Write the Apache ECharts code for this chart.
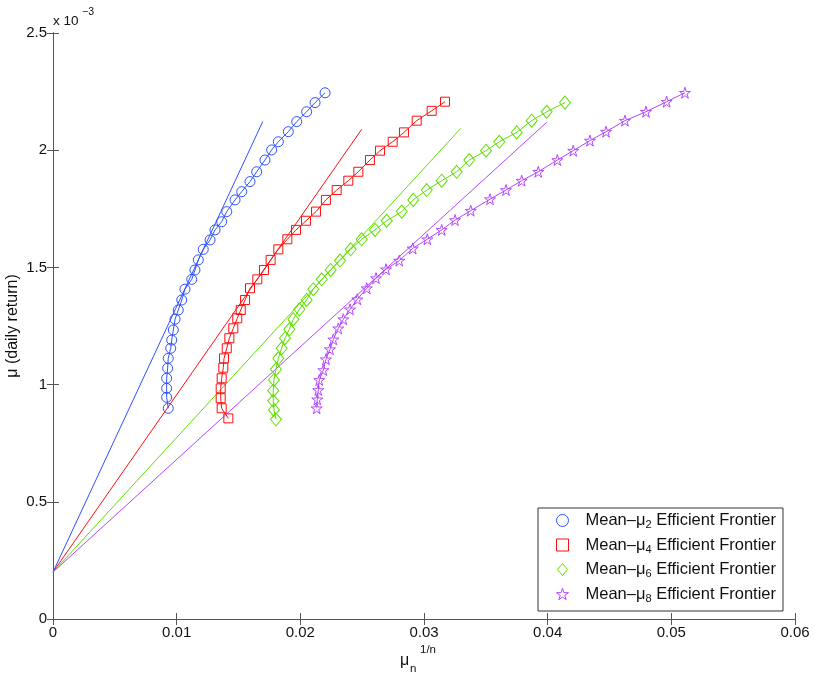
<!DOCTYPE html>
<html><head><meta charset="utf-8">
<script src="https://cdn.jsdelivr.net/npm/echarts@6/dist/echarts.min.js"></script>
<style>html,body{margin:0;padding:0;background:#fff}#c{width:817px;height:676px}</style>
</head><body><div id="c"></div>
<script>
// y values are in units of 1e-3 (axis shows "x 10^-3")
const xTicks = ['0','0.01','0.02','0.03','0.04','0.05','0.06'];
const yTicks = ['0','0.5','1','1.5','2','2.5'];
const seriesNames = ['Mean\u2013\u03bc2 Efficient Frontier','Mean\u2013\u03bc4 Efficient Frontier','Mean\u2013\u03bc6 Efficient Frontier','Mean\u2013\u03bc8 Efficient Frontier'];
const seriesSubs = ['2','4','6','8'];

const mu2X = [0.00932,0.00919,0.00919,0.00919,0.00927,0.00932,0.00952,0.00960,0.00973,0.00987,0.01013,0.01041,0.01067,0.01122,0.01148,0.01175,0.01215,0.01270,0.01310,0.01364,0.01405,0.01472,0.01526,0.01593,0.01647,0.01714,0.01768,0.01822,0.01903,0.01971,0.02051,0.02119,0.02200];
const mu2Y = [0.899,0.946,0.984,1.027,1.070,1.112,1.155,1.190,1.233,1.279,1.318,1.361,1.407,1.449,1.489,1.532,1.577,1.617,1.660,1.695,1.738,1.788,1.823,1.866,1.908,1.958,2.001,2.036,2.079,2.122,2.164,2.203,2.245];

const mu4X = [0.01418,0.01364,0.01356,0.01356,0.01364,0.01377,0.01383,0.01405,0.01426,0.01458,0.01490,0.01518,0.01553,0.01593,0.01652,0.01706,0.01760,0.01822,0.01895,0.01965,0.02046,0.02127,0.02207,0.02294,0.02388,0.02469,0.02563,0.02644,0.02747,0.02838,0.02941,0.03062,0.03170];
const mu4Y = [0.856,0.899,0.942,0.984,1.027,1.072,1.112,1.155,1.198,1.240,1.283,1.318,1.361,1.411,1.449,1.489,1.532,1.577,1.620,1.660,1.699,1.738,1.788,1.830,1.870,1.908,1.958,1.998,2.036,2.076,2.126,2.168,2.207];

const mu6X = [0.01803,0.01787,0.01781,0.01781,0.01787,0.01803,0.01822,0.01849,0.01876,0.01911,0.01943,0.01992,0.02051,0.02105,0.02173,0.02245,0.02321,0.02407,0.02496,0.02604,0.02698,0.02820,0.02913,0.03022,0.03143,0.03264,0.03366,0.03501,0.03609,0.03750,0.03871,0.03992,0.04140];
const mu6Y = [0.852,0.892,0.931,0.974,1.020,1.065,1.112,1.155,1.198,1.236,1.279,1.321,1.361,1.407,1.449,1.489,1.529,1.577,1.620,1.660,1.699,1.738,1.788,1.830,1.870,1.908,1.958,1.998,2.036,2.076,2.126,2.164,2.203];

const mu8X = [0.02132,0.02137,0.02145,0.02153,0.02186,0.02207,0.02240,0.02267,0.02307,0.02348,0.02402,0.02461,0.02537,0.02612,0.02693,0.02800,0.02909,0.03027,0.03143,0.03251,0.03378,0.03534,0.03663,0.03790,0.03924,0.04078,0.04207,0.04342,0.04472,0.04625,0.04795,0.04962,0.05110];
const mu8Y = [0.899,0.937,0.977,1.020,1.062,1.108,1.151,1.193,1.240,1.279,1.321,1.364,1.411,1.454,1.492,1.529,1.581,1.620,1.660,1.702,1.742,1.791,1.830,1.870,1.908,1.958,1.998,2.041,2.079,2.126,2.164,2.207,2.245];

// tangent lines from the risk-free point
const tangentStart = [0, 0.2];
const tangentEnd2 = [0.01696, 2.122];
const tangentEnd4 = [0.02496, 2.089];
const tangentEnd6 = [0.03297, 2.093];
const tangentEnd8 = [0.03992, 2.119];

const colors = ['#2e50ff', '#ff0d0d', '#5ee000', '#b347ff'];
const starPath = 'path://M50 0 L61.17 34.63 L97.55 34.55 L68.07 55.87 L79.39 90.45 L50 69 L20.61 90.45 L31.93 55.87 L2.45 34.55 L38.83 34.63 Z';
const diamondPath = 'path://M50 0 L92 50 L50 100 L8 50 Z';
const symbols = ['circle', 'rect', diamondPath, starPath];
const symbolSizes = [10, 9, [11, 13], 11];
const xs = [mu2X, mu4X, mu6X, mu8X];
const ys = [mu2Y, mu4Y, mu6Y, mu8Y];
const ends = [tangentEnd2, tangentEnd4, tangentEnd6, tangentEnd8];

const FONT = 'Liberation Sans, Arial, Helvetica, sans-serif';
const series = [];
for (let i = 0; i < 4; i++) {
  series.push({
    name: 'tan' + i, type: 'line', data: [tangentStart, ends[i]], symbol: 'none',
    lineStyle: { color: colors[i], width: 1 }, itemStyle: { color: colors[i] },
    silent: true, animation: false, z: 2
  });
}
for (let i = 0; i < 4; i++) {
  series.push({
    name: seriesNames[i], type: 'line',
    data: xs[i].map((x, k) => [x, ys[i][k]]),
    symbol: symbols[i], symbolSize: symbolSizes[i], showAllSymbol: true, symbolKeepAspect: false,
    lineStyle: { color: colors[i], width: 1 },
    itemStyle: { color: 'rgba(0,0,0,0)', borderColor: colors[i], borderWidth: 1 },
    animation: false, z: 3
  });
}

const axisLine = { show: true, lineStyle: { color: '#555', width: 1 } };
const chart = echarts.init(document.getElementById('c'), null, { renderer: 'canvas' });
chart.setOption({
  backgroundColor: '#fff',
  animation: false,
  grid: { left: 53, right: 22, top: 33, bottom: 57, containLabel: false, outerBoundsMode: 'none' },
  xAxis: [
    { type: 'value', min: 0, max: 0.06, interval: 0.01, position: 'bottom',
      axisLine, splitLine: { show: false },
      axisTick: { inside: true, length: 6, lineStyle: { color: '#555' } },
      axisLabel: { margin: 6, color: '#111', fontFamily: FONT, fontSize: 15,
        formatter: (v) => xTicks[Math.round(v / 0.01)] } },
    { type: 'value', min: 0, max: 0.06, interval: 0.01, position: 'top',
      axisLine, splitLine: { show: false },
      axisTick: { inside: true, length: 6, lineStyle: { color: '#555' } },
      axisLabel: { show: false } }
  ],
  yAxis: [
    { type: 'value', min: 0, max: 2.5, interval: 0.5, position: 'left',
      axisLine, splitLine: { show: false },
      axisTick: { inside: true, length: 6, lineStyle: { color: '#555' } },
      axisLabel: { margin: 6, color: '#111', fontFamily: FONT, fontSize: 15,
        formatter: (v) => yTicks[Math.round(v / 0.5)] },
      name: '\u03bc (daily return)', nameLocation: 'middle', nameGap: 32, nameMoveOverlap: false,
      nameTextStyle: { color: '#111', fontFamily: FONT, fontSize: 16 } },
    { type: 'value', min: 0, max: 2.5, interval: 0.5, position: 'right',
      axisLine, splitLine: { show: false },
      axisTick: { inside: true, length: 6, lineStyle: { color: '#555' } },
      axisLabel: { show: false } }
  ],
  legend: {
    orient: 'vertical', left: 538, top: 508,
    padding: [4, 7, 7, 18], itemGap: 6, itemWidth: 12, itemHeight: 12,
    backgroundColor: '#fff', borderColor: '#333', borderWidth: 1, borderRadius: 0,
    data: seriesNames.map((n, i) => ({
      name: n, icon: symbols[i],
      itemStyle: { color: '#ffffff', borderColor: colors[i], borderWidth: 1, opacity: 1 }
    })),
    formatter: (n) => {
      const i = seriesNames.indexOf(n);
      return '{g|}{a|Mean\u2013\u03bc}{s|' + seriesSubs[i] + '}{a| Efficient Frontier}';
    },
    textStyle: {
      color: '#111', fontFamily: FONT, fontSize: 16.5,
      rich: {
        g: { width: 12, lineHeight: 20 },
        a: { fontSize: 16.5, fontFamily: FONT, color: '#111', lineHeight: 20 },
        s: { fontSize: 11, fontFamily: FONT, color: '#111', lineHeight: 11, verticalAlign: 'bottom' }
      }
    },
    selectedMode: false
  },
  graphic: [
    { type: 'text', left: 53, top: 14, style: { text: 'x 10', fontFamily: FONT, fontSize: 13.5, fill: '#111' } },
    { type: 'text', left: 82, top: 7, style: { text: '\u22123', fontFamily: FONT, fontSize: 10.5, fill: '#111' } },
    { type: 'text', left: 400, top: 653, style: { text: '\u03bc', fontFamily: FONT, fontSize: 16, fill: '#111' } },
    { type: 'text', left: 410, top: 663, style: { text: 'n', fontFamily: FONT, fontSize: 11.5, fill: '#111' } },
    { type: 'text', left: 420, top: 644, style: { text: '1/n', fontFamily: FONT, fontSize: 11.5, fill: '#111' } }
  ],
  series
});
</script></body></html>
